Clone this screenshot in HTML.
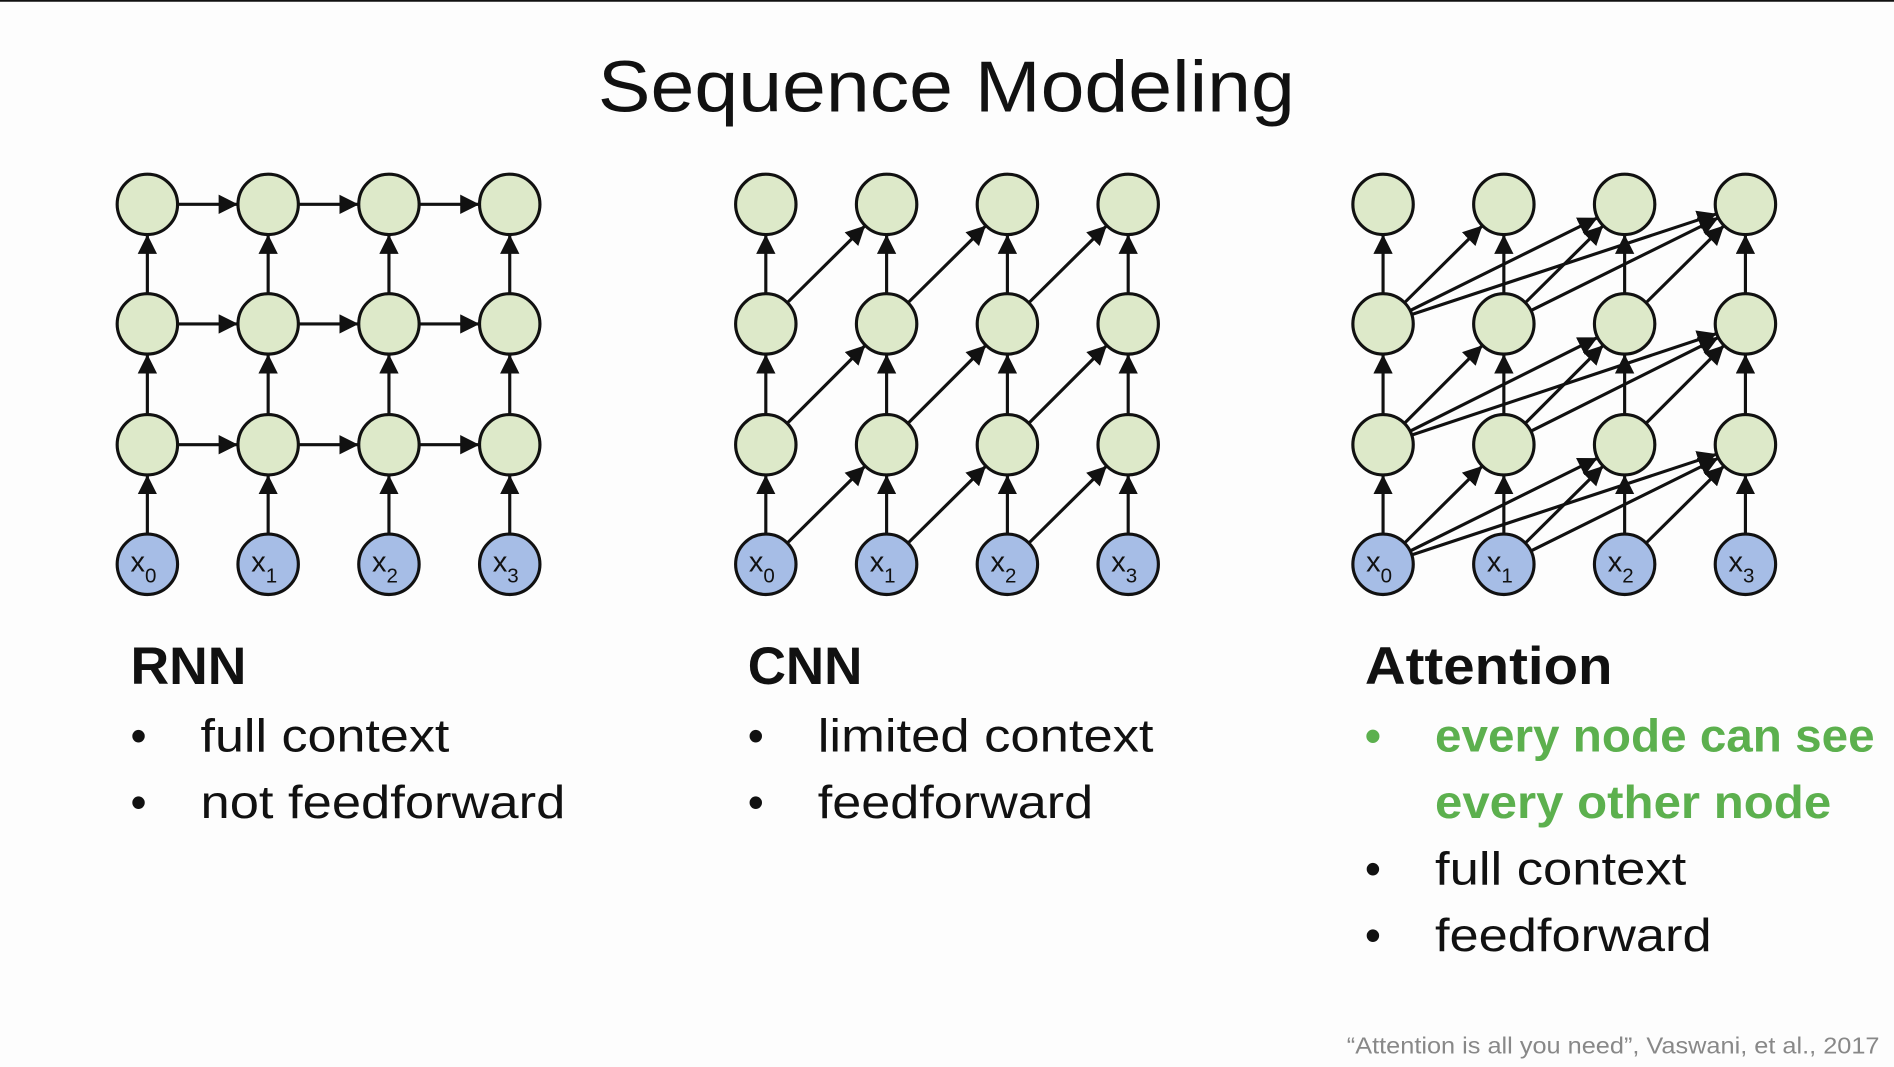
<!DOCTYPE html>
<html><head><style>
html,body{margin:0;padding:0;background:#fdfdfd;}
svg{display:block}
text{font-family:"Liberation Sans",sans-serif;}
</style></head><body>
<svg width="1894" height="1067" viewBox="0 0 1568 883" xmlns="http://www.w3.org/2000/svg">
<defs>
<marker id="b" viewBox="0 0 10 10" refX="10" refY="5" markerWidth="16" markerHeight="16" orient="auto" markerUnits="userSpaceOnUse">
<path d="M0,0 L10,5 L0,10 z" fill="#111"/></marker>
</defs>
<rect x="0" y="0" width="1568" height="883" fill="#fdfdfd"/>
<line x1="0" y1="0.5" x2="1568" y2="0.5" stroke="#111" stroke-width="1.5"/>
<text x="495" y="92" font-size="60" textLength="577" lengthAdjust="spacingAndGlyphs" fill="#111">Sequence Modeling</text>
<g id="g" stroke="#111" stroke-width="2.6" fill="none"></g>
<g id="n"></g>
<g fill="#111" font-size="38">
<text x="108" y="566" font-size="44" font-weight="bold" textLength="96" lengthAdjust="spacingAndGlyphs">RNN</text>
<text x="108" y="622">•</text><text x="166" y="622" textLength="206" lengthAdjust="spacingAndGlyphs">full context</text>
<text x="108" y="677">•</text><text x="166" y="677" textLength="302" lengthAdjust="spacingAndGlyphs">not feedforward</text>
<text x="619" y="566" font-size="44" font-weight="bold" textLength="95" lengthAdjust="spacingAndGlyphs">CNN</text>
<text x="619" y="622">•</text><text x="677" y="622" textLength="278" lengthAdjust="spacingAndGlyphs">limited context</text>
<text x="619" y="677">•</text><text x="677" y="677" textLength="228" lengthAdjust="spacingAndGlyphs">feedforward</text>
<text x="1130" y="566" font-size="44" font-weight="bold" textLength="205" lengthAdjust="spacingAndGlyphs">Attention</text>
<text x="1130" y="622" fill="#5cb04e" font-weight="bold">•</text><text x="1188" y="622" font-weight="bold" fill="#5cb04e" textLength="364" lengthAdjust="spacingAndGlyphs">every node can see</text>
<text x="1188" y="677" font-weight="bold" fill="#5cb04e" textLength="328" lengthAdjust="spacingAndGlyphs">every other node</text>
<text x="1130" y="732">•</text><text x="1188" y="732" textLength="208" lengthAdjust="spacingAndGlyphs">full context</text>
<text x="1130" y="787">•</text><text x="1188" y="787" textLength="229" lengthAdjust="spacingAndGlyphs">feedforward</text>
</g>
<text x="1115" y="872" font-size="19" fill="#888" textLength="441" lengthAdjust="spacingAndGlyphs">“Attention is all you need”, Vaswani, et al., 2017</text>
</svg>
<script>
const NS="http://www.w3.org/2000/svg";
const g=document.getElementById('g'),n=document.getElementById('n');
const rows=[467,368,268,169],R=25;
function ln(x1,y1,x2,y2){const dx=x2-x1,dy=y2-y1,d=Math.hypot(dx,dy);
const l=document.createElementNS(NS,'line');
l.setAttribute('x1',x1+dx/d*R);l.setAttribute('y1',y1+dy/d*R);
l.setAttribute('x2',x2-dx/d*R);l.setAttribute('y2',y2-dy/d*R);
l.setAttribute('marker-end','url(#b)');g.appendChild(l);}
const groups=[[122,222,322,422],[634,734,834,934],[1145,1245,1345,1445]];
groups.forEach((xs,k)=>{
 for(let r=0;r<3;r++)for(let i=0;i<4;i++){
  ln(xs[i],rows[r],xs[i],rows[r+1]);
  if(k==1&&i<3)ln(xs[i],rows[r],xs[i+1],rows[r+1]);
  if(k==2)for(let j=i+1;j<4;j++)ln(xs[i],rows[r],xs[j],rows[r+1]);
 }
 if(k==0)for(let r=1;r<4;r++)for(let i=0;i<3;i++)ln(xs[i],rows[r],xs[i+1],rows[r]);
 for(let r=0;r<4;r++)for(let i=0;i<4;i++){
  const c=document.createElementNS(NS,'circle');
  c.setAttribute('cx',xs[i]);c.setAttribute('cy',rows[r]);c.setAttribute('r',R);
  c.setAttribute('fill',r==0?'#a6bde6':'#dde9c9');c.setAttribute('stroke','#111');c.setAttribute('stroke-width','2.6');
  n.appendChild(c);
  if(r==0){const t=document.createElementNS(NS,'text');
   t.setAttribute('x',xs[i]-14);t.setAttribute('y',rows[r]+6);t.setAttribute('font-size','24');t.setAttribute('fill','#111');
   t.innerHTML='x<tspan font-size="17" dy="9">'+i+'</tspan>';n.appendChild(t);}
 }
});
</script>
</body></html>
